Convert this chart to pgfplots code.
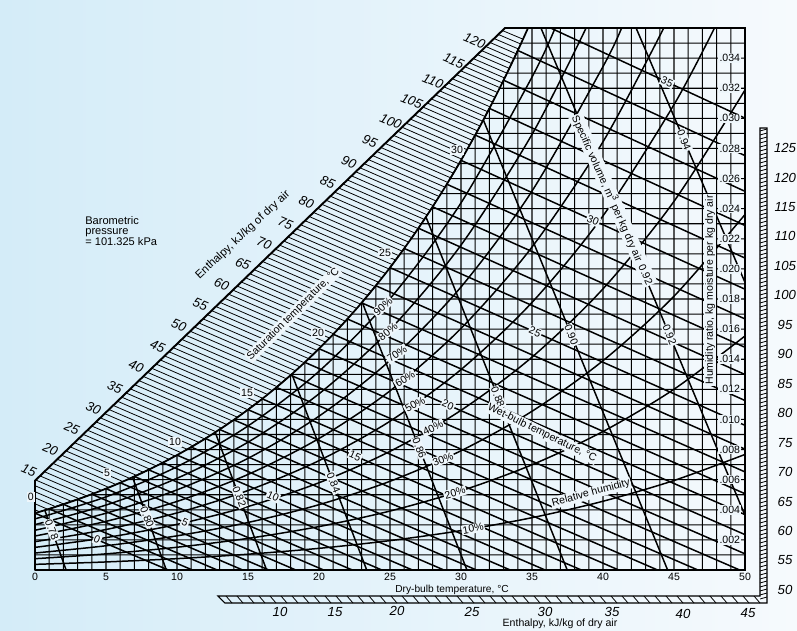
\documentclass[border=0pt]{standalone}
\usepackage{pgfplots}
\pgfplotsset{compat=1.18}
\usepackage{fontspec}
\setmainfont{Liberation Sans}
\definecolor{bgl}{RGB}{212,236,248}
\definecolor{bgr}{RGB}{246,250,253}
\definecolor{lab}{RGB}{238,246,251}
\newcommand{\fs}{\fontsize{6}{7}\selectfont}
\newcommand{\fsi}{\fontsize{7.5}{8}\selectfont\itshape}
\begin{document}
\begin{tikzpicture}[lbl/.style={font=\fs, fill=lab, inner sep=0.6pt}]
\useasboundingbox (0,0) rectangle (15.94,12.6);
\shade[left color=bgl, right color=bgr] (0,0) rectangle (15.94,12.6);
\begin{axis}[at={(0.6148cm,1.1097cm)}, anchor=south west, scale only axis,
  width=14.3704cm, height=11.0206cm,
  xmin=-0.3, xmax=50.3, ymin=-0.0003, ymax=0.0363,
  hide axis, clip mode=individual, unbounded coords=jump,
  every axis plot/.append style={black}]
% ---------- vertical dry-bulb grid (zigzag) ----------
\addplot[line width=0.6pt] coordinates {
(0,0.005931) (0,0) (1,0) (1,.00406) (2,.004364) (2,0) (3,0) (3,.004689) (4,.005034) (4,0)
(5,0) (5,.005403) (6,.005796) (6,0) (7,0) (7,.006213) (8,.006657) (8,0) (9,0) (9,.007129)
(10,.007632) (10,0) (11,0) (11,.008165) (12,.008732) (12,0) (13,0) (13,.009334) (14,.009973) (14,0)
(15,0) (15,.01065) (16,.011369) (16,0) (17,0) (17,.012131) (18,.012938) (18,0) (19,0) (19,.013793)
(20,.014699) (20,0) (21,0) (21,.015658) (22,.016673) (22,0) (23,0) (23,.017748) (24,.018884) (24,0)
(25,0) (25,.020086) (26,.021358) (26,0) (27,0) (27,.022701) (28,.024123) (28,0) (29,0) (29,.025625)
(30,.027211) (30,0) (31,0) (31,.02889) (32,.030661) (32,0) (33,0) (33,.032533) (34,.034508) (34,0)
(35,0) (35,.036) (36,.036) (36,0) (37,0) (37,.036) (38,.036) (38,0) (39,0) (39,.036)
(40,.036) (40,0) (41,0) (41,.036) (42,.036) (42,0) (43,0) (43,.036) (44,.036) (44,0)
(45,0) (45,.036) (46,.036) (46,0) (47,0) (47,.036) (48,.036) (48,0) (49,0) (49,.036) (50,.036) (50,0)};
% ---------- horizontal humidity-ratio grid (zigzag) ----------
\addplot[line width=0.6pt] coordinates {
(0,.001) (50,.001) (50,.002) (0,.002) (0,.003) (50,.003) (50,.004) (0.79,.004) (3.90,.005) (50,.005)
(50,.006) (6.49,.006) (8.73,.007) (50,.007) (50,.008) (10.69,.008) (12.45,.009) (50,.009)
(50,.010) (14.04,.010) (15.49,.011) (50,.011) (50,.012) (16.83,.012) (18.07,.013) (50,.013)
(50,.014) (19.23,.014) (20.31,.015) (50,.015) (50,.016) (21.34,.016) (22.30,.017) (50,.017)
(50,.018) (23.22,.018) (24.10,.019) (50,.019) (50,.020) (24.93,.020) (25.72,.021) (50,.021)
(50,.022) (26.48,.022) (27.21,.023) (50,.023) (50,.024) (27.91,.024) (28.58,.025) (50,.025)
(50,.026) (29.24,.026) (29.87,.027) (50,.027) (50,.028) (30.47,.028) (31.06,.029) (50,.029)
(50,.030) (31.63,.030) (32.18,.031) (50,.031) (50,.032) (32.72,.032) (33.24,.033) (50,.033)
(50,.034) (33.74,.034) (34.24,.035) (50,.035)};
% ---------- enthalpy hatching in the band (zigzag, 1 kJ/kg) ----------
\addplot[line width=0.45pt] coordinates {
(0,.00400) (0.32,.00387) (0.88,.00404) (0,.00440) (0,.00480) (1.44,.00421) (2.00,.00439) (0,.00520)
(0,.00560) (2.56,.00456) (3.12,.00473) (0.05,.00598) (0.35,.00625) (3.64,.00492) (4.15,.00511) (0.66,.00653)
(0.96,.00681) (4.67,.00530) (5.19,.00549) (1.27,.00708) (1.57,.00736) (5.70,.00568) (6.18,.00588) (1.87,.00763)
(2.18,.00791) (6.66,.00609) (7.14,.00629) (2.48,.00818) (2.78,.00846) (7.61,.00650) (8.09,.00670) (3.09,.00873)
(3.39,.00901) (8.53,.00692) (8.98,.00714) (3.69,.00929) (4.00,.00956) (9.42,.00736) (9.86,.00757) (4.30,.00984)
(4.60,.01011) (10.30,.00779) (10.71,.00802) (4.90,.01039) (5.21,.01066) (11.12,.00825) (11.53,.00848) (5.51,.01093)
(5.81,.01121) (11.94,.00871) (12.35,.00894) (6.11,.01148) (6.41,.01176) (12.73,.00919) (13.12,.00943) (6.72,.01203)
(7.02,.01231) (13.50,.00967) (13.88,.00991) (7.32,.01258) (7.62,.01286) (14.26,.01015) (14.62,.01040) (7.92,.01313)
(8.22,.01340) (14.97,.01065) (15.33,.01090) (8.53,.01368) (8.83,.01395) (15.69,.01115) (16.05,.01140) (9.13,.01422)
(9.43,.01450) (16.38,.01166) (16.71,.01192) (9.73,.01477) (10.03,.01504) (17.04,.01218) (17.38,.01244) (10.33,.01532)
(10.63,.01559) (17.71,.01270) (18.02,.01297) (10.93,.01586) (11.23,.01614) (18.33,.01324) (18.65,.01350) (11.54,.01641)
(11.84,.01668) (18.96,.01377) (19.27,.01404) (12.14,.01696) (12.44,.01723) (19.57,.01431) (19.86,.01459) (12.74,.01750)
(13.04,.01777) (20.15,.01486) (20.45,.01514) (13.34,.01805) (13.64,.01832) (20.74,.01541) (21.02,.01569) (13.94,.01859)
(14.24,.01886) (21.30,.01597) (21.57,.01625) (14.53,.01913) (14.83,.01941) (21.85,.01653) (22.13,.01681) (15.13,.01968)
(15.43,.01995) (22.39,.01710) (22.65,.01738) (15.73,.02022) (16.03,.02049) (22.91,.01767) (23.17,.01796) (16.33,.02077)
(16.63,.02104) (23.44,.01824) (23.68,.01853) (16.93,.02131) (17.23,.02158) (23.93,.01883) (24.18,.01912) (17.52,.02185)
(17.82,.02212) (24.43,.01941) (24.68,.01970) (18.12,.02239) (18.42,.02266) (24.92,.02000) (25.15,.02029) (18.72,.02293)
(19.02,.02320) (25.39,.02059) (25.62,.02088) (19.31,.02348) (19.61,.02375) (25.86,.02118) (26.08,.02148) (19.91,.02402)
(20.21,.02429) (26.31,.02178) (26.53,.02208) (20.50,.02456) (20.80,.02483) (26.76,.02238) (26.98,.02268) (21.10,.02510)
(21.40,.02537) (27.20,.02298) (27.41,.02329) (21.69,.02564) (21.99,.02591) (27.62,.02359) (27.84,.02389) (22.29,.02618)
(22.59,.02645) (28.05,.02420) (28.25,.02451) (22.88,.02672) (23.18,.02699) (28.46,.02481) (28.66,.02512) (23.48,.02726)
(23.77,.02753) (28.87,.02543) (29.07,.02574) (24.07,.02780) (24.37,.02806) (29.27,.02605) (29.46,.02636) (24.66,.02833)
(24.96,.02860) (29.66,.02667) (29.85,.02698) (25.25,.02887) (25.55,.02914) (30.05,.02729) (30.23,.02760) (25.85,.02941)
(26.14,.02968) (30.42,.02792) (30.61,.02823) (26.44,.02995) (26.73,.03022) (30.79,.02854) (30.98,.02886) (27.03,.03048)
(27.32,.03075) (31.16,.02917) (31.34,.02949) (27.62,.03102) (27.91,.03129) (31.52,.02981) (31.70,.03012) (28.21,.03156)
(28.51,.03182) (31.88,.03044) (32.05,.03076) (28.80,.03209) (29.10,.03236) (32.22,.03108) (32.39,.03140) (29.39,.03263)
(29.68,.03290) (32.56,.03172) (32.73,.03204) (29.98,.03316) (30.27,.03343) (32.90,.03236) (33.07,.03268) (30.57,.03370)
(30.86,.03397) (33.23,.03300) (33.40,.03332) (31.16,.03423) (31.45,.03450) (33.56,.03364) (33.72,.03396) (31.75,.03477)
(32.04,.03504) (33.88,.03429) (34.04,.03461) (32.33,.03530) (32.63,.03557) (34.20,.03494) (34.36,.03526) (32.92,.03583)};
% ---------- relative humidity curves ----------
\addplot[smooth, line width=0.85pt] coordinates {(0,.000375) (5,.000536) (10,.000755) (15,.001049) (20,.001439) (25,.001952) (30,.002618) (35,.003475) (40,.004567) (45,.005946) (50,.007676)};
\addplot[smooth, line width=0.85pt] coordinates {(0,.000751) (5,.001073) (10,.001512) (15,.002101) (20,.002885) (25,.003916) (30,.005258) (35,.006990) (40,.009201) (45,.012007) (50,.015544)};
\addplot[smooth, line width=0.85pt] coordinates {(0,.001128) (5,.001611) (10,.002270) (15,.003157) (20,.004338) (25,.005893) (30,.007921) (35,.010544) (40,.013904) (45,.018187) (50,.023611)};
\addplot[smooth, line width=0.85pt] coordinates {(0,.001504) (5,.002150) (10,.003031) (15,.004217) (20,.005797) (25,.007882) (30,.010606) (35,.014138) (40,.018678) (45,.024488) (50,.031884)};
\addplot[smooth, line width=0.85pt] coordinates {(0,.001882) (5,.002690) (10,.003793) (15,.005280) (20,.007264) (25,.009883) (30,.013314) (35,.017774) (40,.023524) (45,.030914) (47.85,.036)};
\addplot[smooth, line width=0.85pt] coordinates {(0,.002259) (5,.003231) (10,.004557) (15,.006347) (20,.008737) (25,.011898) (30,.016046) (35,.021451) (40,.028444) (44.28,.036)};
\addplot[smooth, line width=0.85pt] coordinates {(0,.002638) (5,.003772) (10,.005323) (15,.007417) (20,.010217) (25,.013925) (30,.018801) (35,.025171) (40,.033440) (41.31,.036)};
\addplot[smooth, line width=0.85pt] coordinates {(0,.003016) (5,.004315) (10,.006091) (15,.008491) (20,.011704) (25,.015966) (30,.021580) (35,.028934) (38.81,.036)};
\addplot[smooth, line width=0.85pt] coordinates {(0,.003395) (5,.004859) (10,.006860) (15,.009569) (20,.013198) (25,.018019) (30,.024384) (35,.032741) (36.63,.036)};
% ---------- wet-bulb lines ----------
\addplot[line width=0.85pt] table[row sep=\\] {
0 .003775\\ 9.385 0\\ nan nan\\ 1 .00406\\ 11.084 0\\ nan nan\\ 2 .004364\\ 12.829 0\\ nan nan\\
3 .004689\\ 14.625 0\\ nan nan\\ 4 .005034\\ 16.468 0\\ nan nan\\ 5 .005403\\ 18.370 0\\ nan nan\\
6 .005796\\ 20.329 0\\ nan nan\\ 7 .006213\\ 22.346 0\\ nan nan\\ 8 .006657\\ 24.426 0\\ nan nan\\
9 .007129\\ 26.575 0\\ nan nan\\ 10 .007632\\ 28.797 0\\ nan nan\\ 11 .008165\\ 31.091 0\\ nan nan\\
12 .008732\\ 33.466 0\\ nan nan\\ 13 .009334\\ 35.924 0\\ nan nan\\ 14 .009973\\ 38.471 0\\ nan nan\\
15 .010650\\ 41.107 0\\ nan nan\\ 16 .011369\\ 43.844 0\\ nan nan\\ 17 .012131\\ 46.682 0\\ nan nan\\
18 .012938\\ 49.627 0\\ nan nan\\ 19 .013793\\ 50 .001074\\ nan nan\\ 20 .014699\\ 50 .002350\\ nan nan\\
21 .015658\\ 50 .003680\\ nan nan\\ 22 .016673\\ 50 .005067\\ nan nan\\ 23 .017748\\ 50 .006516\\ nan nan\\
24 .018884\\ 50 .008027\\ nan nan\\ 25 .020086\\ 50 .009608\\ nan nan\\ 26 .021358\\ 50 .011259\\ nan nan\\
27 .022701\\ 50 .012984\\ nan nan\\ 28 .024123\\ 50 .014789\\ nan nan\\ 29 .025625\\ 50 .016677\\ nan nan\\
30 .027211\\ 50 .018650\\ nan nan\\ 31 .028890\\ 50 .020719\\ nan nan\\ 32 .030661\\ 50 .022883\\ nan nan\\
33 .032533\\ 50 .025150\\ nan nan\\ 34 .034508\\ 50 .027524\\ nan nan\\ 36.31 .036\\ 50 .030010\\
};
% ---------- specific volume lines ----------
\addplot[line width=0.85pt] table[row sep=\\] {
0.69 .00397\\ 2.19 0\\ nan nan\\ 6.87 .00616\\ 9.25 0\\ nan nan\\ 12.69 .00915\\ 16.31 0\\ nan nan\\
18.09 .01301\\ 23.36 0\\ nan nan\\ 23.04 .01779\\ 30.42 0\\ nan nan\\ 27.53 .02345\\ 37.48 0\\ nan nan\\
31.57 .02990\\ 44.55 0\\ nan nan\\ 35.63 .036\\ 50 .00363\\ nan nan\\ 42.33 .036\\ 50 .01910\\
};
% ---------- saturation curve ----------
\addplot[smooth, line width=1pt] coordinates {
(0,.003775) (1,.00406) (2,.004364) (3,.004689) (4,.005034) (5,.005403) (6,.005796) (7,.006213) (8,.006657) (9,.007129)
(10,.007632) (11,.008165) (12,.008732) (13,.009334) (14,.009973) (15,.01065) (16,.011369) (17,.012131) (18,.012938) (19,.013793)
(20,.014699) (21,.015658) (22,.016673) (23,.017748) (24,.018884) (25,.020086) (26,.021358) (27,.022701) (28,.024123) (29,.025625)
(30,.027211) (31,.02889) (32,.030661) (33,.032533) (34,.034508) (34.72,.036)};
% ---------- frame and enthalpy band edge ----------
\addplot[line width=1.1pt] coordinates {(0,0) (0,.005931) (33.1,.036) (50,.036) (50,0) (0,0)};

% ---------- humidity ratio labels ----------
\foreach \w in {.002,.004,.006,.008,.010,.012,.014,.016,.018,.020,.022,.024,.026,.028,.030,.032,.034}{
  \edef\tmp{\noexpand\node[lbl, anchor=east] at (axis cs:49.75,\w) {\w};}\tmp
}
% ---------- dry-bulb labels ----------
\foreach \t in {0,5,...,50}{
  \edef\tmp{\noexpand\node[font=\noexpand\fs, anchor=north, inner sep=1.5pt] at (axis cs:\t,0) {\t};}\tmp
}
% ---------- RH labels ----------
\node[lbl, rotate=42] at (axis cs:24.51,.01749) {90\%};
\node[lbl, rotate=38] at (axis cs:24.86,.01583) {80\%};
\node[lbl, rotate=35] at (axis cs:25.49,.01435) {70\%};
\node[lbl, rotate=32] at (axis cs:26.06,.01269) {60\%};
\node[lbl, rotate=29] at (axis cs:26.76,.01099) {50\%};
\node[lbl, rotate=26] at (axis cs:28.03,.00945) {40\%};
\node[lbl, rotate=21] at (axis cs:28.73,.00736) {30\%};
\node[lbl, rotate=16] at (axis cs:29.58,.00513) {20\%};
\node[lbl, rotate=10] at (axis cs:30.85,.00275) {10\%};
% ---------- wet-bulb labels inside ----------
\node[lbl, rotate=-24] at (axis cs:4.37,.00202) {0};
\node[lbl, rotate=-24] at (axis cs:10.56,.00316) {5};
\node[lbl, rotate=-24] at (axis cs:16.76,.00489) {10};
\node[lbl, rotate=-24] at (axis cs:22.54,.00757) {15};
\node[lbl, rotate=-24] at (axis cs:29.08,.01096) {20};
\node[lbl, rotate=-24] at (axis cs:35.21,.01581) {25};
\node[lbl, rotate=-24] at (axis cs:39.30,.02323) {30};
\node[lbl, rotate=-24] at (axis cs:44.51,.03241) {35};
% ---------- saturation temperature labels ----------
\node[lbl] at (axis cs:-0.3,.00485) {0};
\node[lbl] at (axis cs:5.07,.00644) {5};
\node[lbl] at (axis cs:9.86,.00850) {10};
\node[lbl] at (axis cs:14.93,.01176) {15};
\node[lbl] at (axis cs:19.93,.01574) {20};
\node[lbl] at (axis cs:24.65,.02106) {25};
\node[lbl] at (axis cs:29.72,.02790) {30};
% ---------- specific volume labels ----------
\node[lbl, rotate=-68] at (axis cs:1.19,.00266) {0.78};
\node[lbl, rotate=-68] at (axis cs:7.89,.00352) {0.80};
\node[lbl, rotate=-68] at (axis cs:14.39,.00485) {0.82};
\node[lbl, rotate=-68] at (axis cs:21.02,.00578) {0.84};
\node[lbl, rotate=-68] at (axis cs:27.06,.00810) {0.86};
\node[lbl, rotate=-68] at (axis cs:32.60,.01149) {0.88};
\node[lbl, rotate=-68] at (axis cs:37.77,.01561) {0.90};
\node[lbl, rotate=-68] at (axis cs:44.68,.01561) {0.92};
\node[lbl, rotate=-68] at (axis cs:45.71,.02856) {0.94};
\node[lbl, rotate=-66] at (axis cs:40.70,.02458) {Specific volume, m\textsuperscript{3} per kg dry air \,0.92};
% ---------- titles inside chart ----------
\node[lbl, rotate=-26] at (axis cs:35.70,.00910) {Wet-bulb temperature, °C};
\node[lbl, rotate=15] at (axis cs:39.15,.00511) {Relative humidity};
\node[lbl, rotate=90] at (axis cs:47.54,.01860) {Humidity ratio, kg moisture per kg dry air};
\node[lbl, rotate=45] at (axis cs:18.20,.01700) {Saturation temperature, °C};
% ---------- enthalpy labels along the band ----------
\foreach \h/\x/\y in {15/-0.44/.00664,20/1.08/.00802,25/2.60/.00939,30/4.11/.01077,35/5.62/.01214,40/7.13/.01352,45/8.64/.01488,50/10.14/.01625,55/11.65/.01762,60/13.15/.01898,65/14.64/.02034,70/16.14/.02170,75/17.63/.02305,80/19.12/.02441,85/20.61/.02576,90/22.10/.02711,95/23.58/.02846,100/25.06/.02980,105/26.54/.03114,110/28.02/.03248,115/29.49/.03382,120/30.96/.03516}{
  \edef\tmp{\noexpand\node[font=\noexpand\fsi, rotate=-23] at (axis cs:\x,\y) {\h};}\tmp
}
\end{axis}
% ---------- outer texts ----------
\node[font=\fontsize{5.8}{7}\selectfont] at (9.04,0.80) {Dry-bulb temperature, °C};
\node[font=\fontsize{6.5}{7}\selectfont, rotate=43] at (4.86,7.90) {Enthalpy, kJ/kg of dry air};
\node[font=\fontsize{6.3}{6}\selectfont, anchor=north west, align=left, inner sep=0pt] at (1.7,8.28) {Barometric\\pressure\\= 101.325 kPa};
% ---------- enthalpy edge scales ----------
\draw[line width=0.6pt] (4.36,0.68) -- (15.2,0.68) -- (15.2,10.04) -- (15.34,10.04) -- (15.34,0.54) -- (4.5,0.54) -- cycle;
\foreach \x in {4.52,4.74,...,15.1}{\draw[line width=0.45pt] (\x,0.68) -- (\x+0.12,0.54);}
\foreach \y in {0.62,0.70,...,10.0}{\draw[line width=0.45pt] (15.2,\y) -- (15.34,\y+0.04);}
\foreach \v/\x/\y in {10/5.60/0.36,15/6.70/0.36,20/7.94/0.38,25/9.44/0.37,30/10.90/0.36,35/12.24/0.36,40/13.66/0.32,45/14.96/0.34}{
  \node[font=\fsi] at (\x,\y) {\v};
}
\foreach \v [count=\k from 0] in {125,120,...,50}{
  \node[font=\fsi] at (15.70,9.64-\k*0.5893) {\v};
}
\node[font=\fs] at (11.2,0.13) {Enthalpy, kJ/kg of dry air};
\end{tikzpicture}
\end{document}
